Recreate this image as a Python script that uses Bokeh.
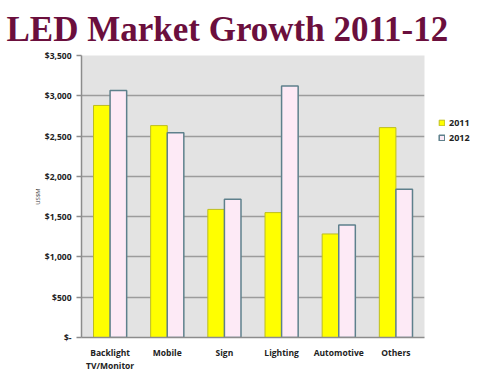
from bokeh.plotting import figure
from bokeh.models import (FactorRange, Range1d, FixedTicker, Title, Legend, LegendItem,
                          ColumnDataSource)
from bokeh.transform import dodge
from bokeh.embed import file_html
from bokeh.resources import INLINE

categories = ["Backlight\nTV/Monitor", "Mobile", "Sign", "Lighting", "Automotive", "Others"]
values_2011 = [2880, 2630, 1590, 1550, 1285, 2605]
values_2012 = [3065, 2540, 1715, 3120, 1395, 1840]
series_names = ["2011", "2012"]
tick_values = [0, 500, 1000, 1500, 2000, 2500, 3000, 3500]
tick_labels = ["$-", "$500", "$1,000", "$1,500", "$2,000", "$2,500", "$3,000", "$3,500"]

source = ColumnDataSource(dict(cat=categories, v2011=values_2011, v2012=values_2012))

p = figure(frame_width=343, frame_height=282, output_backend="svg", toolbar_location=None,
           x_range=FactorRange(*categories), y_range=Range1d(0, 3500),
           min_border_left=81, min_border_right=10, min_border_bottom=5, min_border_top=0)
p.title = None
p.add_layout(Title(text="LED Market Growth 2011-12", text_font="Liberation Serif",
                   text_font_size="35px", text_color="#6B0F3D", align="left",
                   text_font_style="bold", offset=-75, standoff=14), "above")

p.background_fill_color = "#E3E3E3"
p.border_fill_color = "white"
p.outline_line_color = None

r1 = p.vbar(x=dodge("cat", -0.145, range=p.x_range), top="v2011", width=0.29, source=source,
            fill_color="#FFFF00", line_color="#BDBD20", line_width=1)
r2 = p.vbar(x=dodge("cat", 0.145, range=p.x_range), top="v2012", width=0.29, source=source,
            fill_color="#FDEAF6", line_color="#5E808C", line_width=1.5)

p.ygrid.ticker = FixedTicker(ticks=tick_values)
p.ygrid.grid_line_color = "#9C9C9C"
p.ygrid.grid_line_width = 1.5
p.xgrid.grid_line_color = None

ya = p.yaxis[0]
ya.ticker = FixedTicker(ticks=tick_values)
ya.major_label_overrides = {v: s for v, s in zip(tick_values, tick_labels)}
ya.major_label_text_font = "Open Sans"
ya.major_label_text_font_style = "bold"
ya.major_label_text_font_size = "8.5px"
ya.major_label_text_color = "#222222"
ya.axis_line_color = "#8C8C8C"
ya.axis_line_width = 1.5
ya.major_tick_line_color = "#8C8C8C"
ya.major_tick_line_width = 1.5
ya.major_tick_in = 0
ya.major_tick_out = 5
ya.minor_tick_line_color = None
ya.major_label_standoff = 5
ya.axis_label = "US$M"
ya.axis_label_text_font = "Open Sans"
ya.axis_label_text_font_size = "6px"
ya.axis_label_text_font_style = "normal"
ya.axis_label_text_color = "#333333"
ya.axis_label_standoff = 0

xa = p.xaxis[0]
xa.major_label_text_font = "Open Sans"
xa.major_label_text_font_style = "bold"
xa.major_label_text_font_size = "8.5px"
xa.major_label_text_color = "#222222"
xa.axis_line_color = "#8C8C8C"
xa.axis_line_width = 1.5
xa.major_tick_line_color = None
xa.major_tick_out = 0
xa.major_tick_in = 0
xa.minor_tick_line_color = None
xa.major_label_standoff = 9

legend = Legend(items=[LegendItem(label=series_names[0], renderers=[r1]),
                       LegendItem(label=series_names[1], renderers=[r2])],
                location=(14, 193), background_fill_alpha=0, border_line_color=None,
                glyph_width=7, glyph_height=7, spacing=2, label_standoff=4,
                label_text_font="Open Sans", label_text_font_style="bold",
                label_text_font_size="9px", label_text_color="#222222", padding=2, margin=0)
p.add_layout(legend, "right")

open("out.html", "w").write(file_html(p, INLINE))
